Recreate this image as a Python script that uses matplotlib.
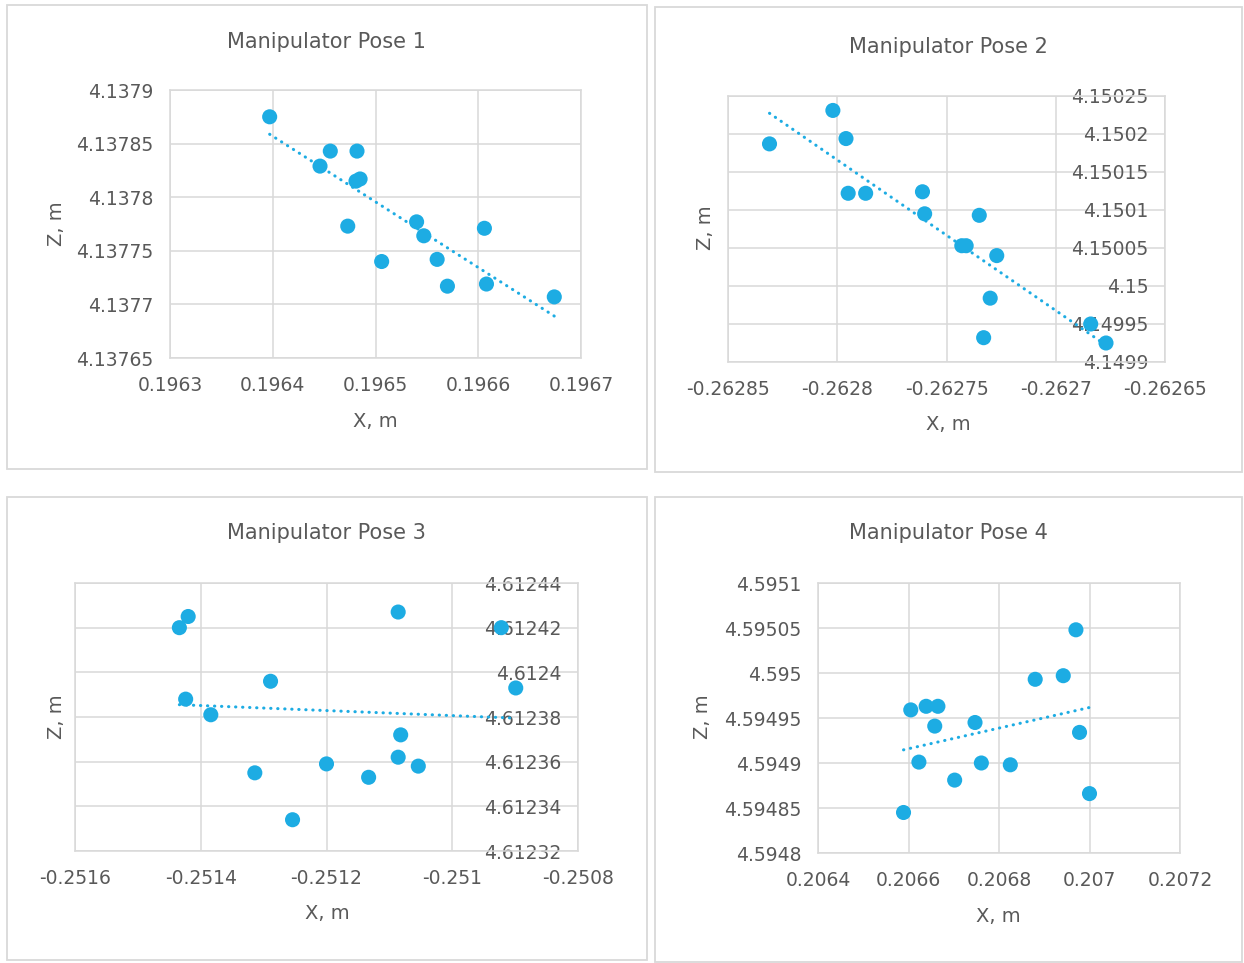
import matplotlib.pyplot as plt
import numpy as np
from matplotlib.patches import Rectangle

# pose 1
x1 = [0.196397, 0.196456, 0.196482, 0.196446, 0.196481, 0.196485, 0.196473, 0.196506,
      0.196540, 0.196547, 0.196560, 0.196570, 0.196606, 0.196608, 0.196674]
z1 = [4.137875, 4.137843, 4.137843, 4.137829, 4.137815, 4.137817, 4.137773, 4.137740,
      4.137777, 4.137764, 4.137742, 4.137717, 4.137771, 4.137719, 4.137707]
xt1 = [0.1963, 0.1964, 0.1965, 0.1966, 0.1967]
xl1 = ["0.1963", "0.1964", "0.1965", "0.1966", "0.1967"]
yt1 = [4.13765, 4.1377, 4.13775, 4.1378, 4.13785, 4.1379]
yl1 = ["4.13765", "4.1377", "4.13775", "4.1378", "4.13785", "4.1379"]

# pose 2
x2 = [-0.262831, -0.262802, -0.262796, -0.262795, -0.262787, -0.262761, -0.262760, -0.262743,
      -0.262741, -0.262735, -0.262727, -0.262730, -0.262733, -0.262684, -0.262677]
z2 = [4.150187, 4.150231, 4.150194, 4.150122, 4.150122, 4.150124, 4.150095, 4.150053,
      4.150053, 4.150093, 4.150040, 4.149984, 4.149932, 4.149950, 4.149925]
xt2 = [-0.26285, -0.2628, -0.26275, -0.2627, -0.26265]
xl2 = ["-0.26285", "-0.2628", "-0.26275", "-0.2627", "-0.26265"]
yt2 = [4.1499, 4.14995, 4.15, 4.15005, 4.1501, 4.15015, 4.1502, 4.15025]
yl2 = ["4.1499", "4.14995", "4.15", "4.15005", "4.1501", "4.15015", "4.1502", "4.15025"]

# pose 3
x3 = [-0.251434, -0.251420, -0.251424, -0.251384, -0.251314, -0.251289, -0.251254, -0.251200,
      -0.251133, -0.251086, -0.251082, -0.251086, -0.251054, -0.250922, -0.250899]
z3 = [4.612420, 4.612425, 4.612388, 4.612381, 4.612355, 4.612396, 4.612334, 4.612359,
      4.612353, 4.612427, 4.612372, 4.612362, 4.612358, 4.612420, 4.612393]
xt3 = [-0.2516, -0.2514, -0.2512, -0.251, -0.2508]
xl3 = ["-0.2516", "-0.2514", "-0.2512", "-0.251", "-0.2508"]
yt3 = [4.61232, 4.61234, 4.61236, 4.61238, 4.6124, 4.61242, 4.61244]
yl3 = ["4.61232", "4.61234", "4.61236", "4.61238", "4.6124", "4.61242", "4.61244"]

# pose 4
x4 = [0.206589, 0.206605, 0.206623, 0.206639, 0.206665, 0.206658, 0.206702, 0.206747,
      0.206761, 0.206825, 0.206880, 0.206942, 0.206970, 0.206978, 0.207000]
z4 = [4.594845, 4.594959, 4.594901, 4.594963, 4.594963, 4.594941, 4.594881, 4.594945,
      4.594900, 4.594898, 4.594993, 4.594997, 4.595048, 4.594934, 4.594866]
xt4 = [0.2064, 0.2066, 0.2068, 0.207, 0.2072]
xl4 = ["0.2064", "0.2066", "0.2068", "0.207", "0.2072"]
yt4 = [4.5948, 4.59485, 4.5949, 4.59495, 4.595, 4.59505, 4.5951]
yl4 = ["4.5948", "4.59485", "4.5949", "4.59495", "4.595", "4.59505", "4.5951"]

titles = ["Manipulator Pose 1", "Manipulator Pose 2", "Manipulator Pose 3", "Manipulator Pose 4"]

W, H = 1244, 963
blue = "#1DACE3"
grey = "#D9D9D9"
txt = "#595959"

fig = plt.figure(figsize=(W / 100, H / 100), dpi=100)


def px_axes(l, r, t, b):
    return fig.add_axes([l / W, 1 - b / H, (r - l) / W, (b - t) / H])


def fpos(x, y):
    return x / W, 1 - y / H


# chart area borders
for (l, t, r, b) in [(7, 5, 647, 469), (655, 7, 1242, 472), (7, 497, 647, 960), (655, 497, 1242, 962)]:
    fig.patches.append(Rectangle(fpos(l, b), (r - l) / W, (b - t) / H, transform=fig.transFigure,
                                 fill=False, edgecolor=grey, linewidth=1.3))

panels = [
    (x1, z1, xt1, xl1, yt1, yl1, (170, 581, 90, 358), False, (326, 42), (375, 421), (57, 224)),
    (x2, z2, xt2, xl2, yt2, yl2, (728, 1165, 96, 362), True, (948, 47), (948, 425), (705, 228)),
    (x3, z3, xt3, xl3, yt3, yl3, (75, 578, 583, 851), True, (326, 533), (327, 913), (57, 717)),
    (x4, z4, xt4, xl4, yt4, yl4, (818, 1180, 583, 853), False, (948, 533), (998, 916), (703, 717)),
]

for i, (x, z, xt, xl, yt, yl, box, right, tpos, xpos, ypos) in enumerate(panels):
    ax = px_axes(*box)
    ax.set_xlim(xt[0], xt[-1])
    ax.set_ylim(yt[0], yt[-1])
    ax.set_xticks(xt)
    ax.set_xticklabels(xl)
    ax.set_yticks(yt)
    ax.set_yticklabels(yl)
    ax.grid(True, color=grey, linewidth=1.1)
    ax.set_axisbelow(True)
    for s in ax.spines.values():
        s.set_color(grey)
        s.set_linewidth(1.1)
    ax.tick_params(axis='both', length=0, labelsize=13.5, labelcolor=txt)
    ax.tick_params(axis='x', pad=13)
    if right:
        ax.yaxis.tick_right()
        ax.tick_params(axis='y', length=0, pad=-12)
        for tk in ax.yaxis.get_major_ticks():
            tk.label2.set_horizontalalignment('right')
    else:
        ax.tick_params(axis='y', pad=12)

    ax.scatter(x, z, s=118, color=blue, edgecolors='none', zorder=3, clip_on=False)

    # linear trendline
    k, c = np.polyfit(np.array(x) - x[0], z, 1)
    tx = np.array([min(x), max(x)])
    ax.plot(tx, k * (tx - x[0]) + c, color=blue, linewidth=2.2,
            linestyle=(0, (0.1, 2.2)), dash_capstyle='round', zorder=4)

    fig.text(*fpos(*tpos), titles[i], ha='center', va='center', fontsize=15, color=txt)
    fig.text(*fpos(*xpos), "X, m", ha='center', va='center', fontsize=14, color=txt)
    fig.text(*fpos(*ypos), "Z, m", ha='center', va='center', fontsize=14, color=txt, rotation=90)

fig.savefig("out.png", dpi=100)
